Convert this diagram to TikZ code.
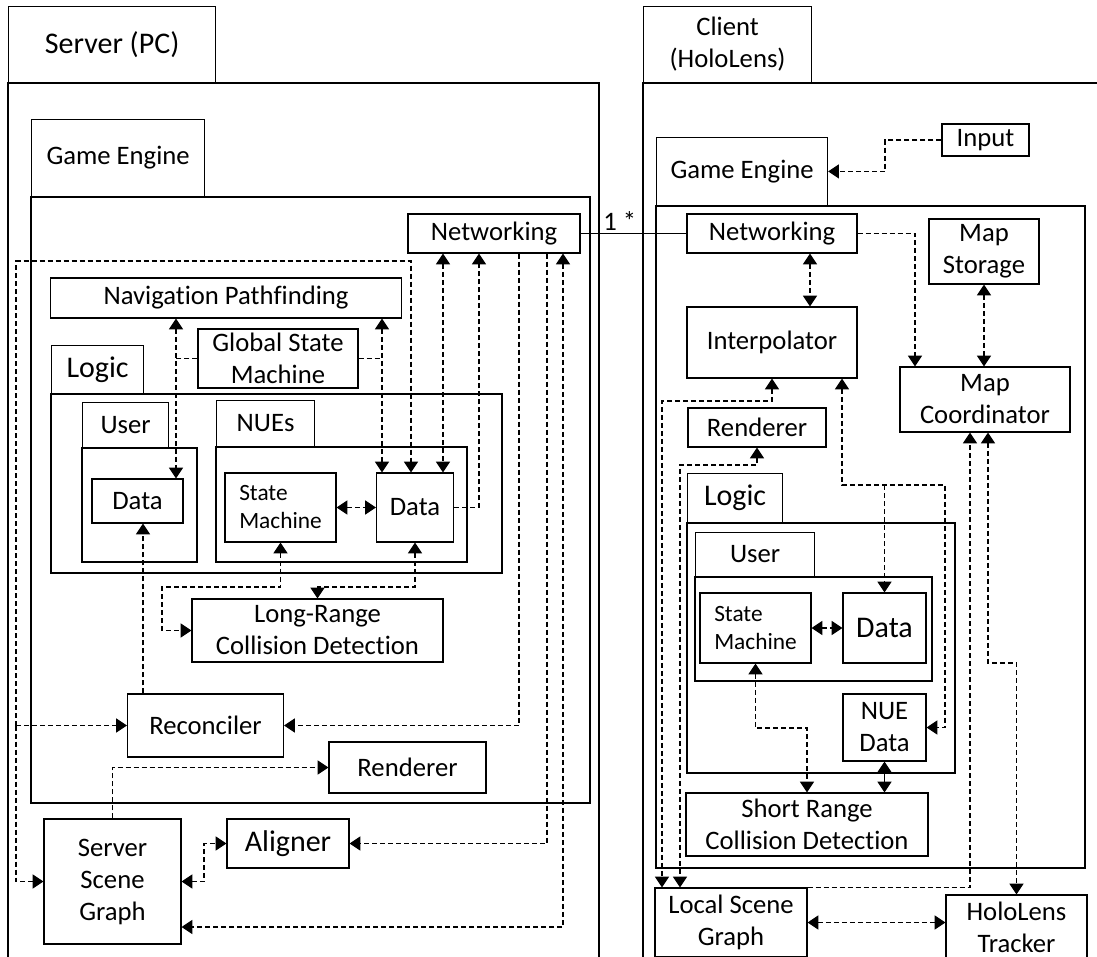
\documentclass[tikz,border=0pt]{standalone}
\usepackage{fontspec}
\setmainfont[Ligatures=NoCommon]{Carlito}
\usetikzlibrary{arrows.meta}

\begin{document}
\begin{tikzpicture}[x=0.75pt,y=0.75pt,yscale=-1,
  box/.style={draw, line width=0.9pt, inner sep=0pt, align=center, font=\fontsize{20}{24}\selectfont},
  sz/.style 2 args={minimum width=#1*0.75pt, minimum height=#2*0.75pt},
  big/.style={font=\fontsize{22.5}{27}\selectfont},
  small/.style={font=\fontsize{17.5}{21}\selectfont, align=left},
  frame/.style={line width=0.9pt},
  link/.style={line width=0.85pt, dash pattern=on 3.75pt off 2.25pt},
  >={Triangle[width=10.5pt,length=8pt]}]
\useasboundingbox (0,0) rectangle (1097,957);

%Server side
\node[box, big, sz={207}{76}, anchor=south west] (serverT) at (8,83) {Server (PC)};
\draw[frame] (serverT.south west) rectangle (599,990);
\node[box, sz={173}{77}, anchor=south west] (geTabS) at (31,197) {Game Engine};
\draw[frame] (geTabS.south west) rectangle (590,803);

\node[box, sz={172}{39}] (netS) at (494,233.5) {Networking};
\node[box, sz={351}{40}] (navS) at (226,298) {Navigation Pathfinding};
\node[box, sz={160}{59}] (gsmS) at (278,358.5) {Global State\\Machine};

\node[box, big, sz={92}{48}, anchor=south west] (logicS) at (51,394) {Logic};
\draw[frame] (logicS.south west) rectangle (502,573);
\node[box, sz={86}{45}, anchor=south west] (userS) at (82,448) {User};
\draw[frame] (userS.south west) rectangle (197,562);
\node[box, sz={91}{44}] (udataS) at (137.5,501) {Data};
\node[box, sz={98}{46}, anchor=south west] (nuesS) at (216,447) {NUEs};
\draw[frame] (nuesS.south west) rectangle (467,562);
\node[box, small, sz={111}{69}] (smS) at (280.5,507.5) {State\\Machine};
\node[box, sz={77}{69}] (ndataS) at (415,507.5) {Data};

\node[box, sz={251}{63}] (lrcdS) at (317.5,630.5) {Long-Range\\Collision Detection};
\node[box, sz={156}{63}] (recS) at (205.5,725.5) {Reconciler};
\node[box, sz={157}{51}] (rendS) at (407.5,767.5) {Renderer};
\node[box, sz={137}{125}] (ssgS) at (112.5,881.5) {Server\\Scene\\Graph};
\node[box, big, sz={122}{49}] (alignS) at (288,843.5) {Aligner};

%Client side
\node[box, sz={168}{76}, anchor=south west] (clientT) at (643,83) {Client\\(HoloLens)};
\draw[frame] (clientT.south west) rectangle (1110,990);
\node[box, sz={171}{68}, anchor=south west] (geTabC) at (656,206) {Game Engine};
\draw[frame] (geTabC.south west) rectangle (1085,868);

\node[box, sz={87}{32}] (inputC) at (985.5,140) {Input};
\node[box, sz={170}{39}] (netC) at (772,233.5) {Networking};
\node[box, sz={110}{65}] (mstoreC) at (984,251.5) {Map\\Storage};
\node[box, sz={170}{71}] (interpC) at (772,342.5) {Interpolator};
\node[box, sz={170}{65}] (mcoordC) at (985,399.5) {Map\\Coordinator};
\node[box, sz={138}{39}] (rendC) at (757,427.5) {Renderer};

\node[box, big, sz={95}{49}, anchor=south west] (logicC) at (687,523) {Logic};
\draw[frame] (logicC.south west) rectangle (955,773);
\node[box, sz={119}{44}, anchor=south west] (userC) at (695,577) {User};
\draw[frame] (userC.south west) rectangle (932,681);
\node[box, small, sz={111}{70}] (smC) at (755.5,628) {State\\Machine};
\node[box, big, sz={83}{70}] (dataC) at (884.5,628) {Data};
\node[box, sz={83}{67}] (nuedC) at (884.5,727.5) {NUE\\Data};

\node[box, sz={242}{63}] (srcdC) at (807,824.5) {Short Range\\Collision Detection};
\node[box, sz={152}{69}] (lsgC) at (731,922.5) {Local Scene\\Graph};
\node[box, sz={141}{64}] (htC) at (1016.5,927) {HoloLens\\Tracker};

%Server links
\draw[frame] (netS.east) -- node[pos=0.37, above, inner sep=2pt, font=\fontsize{20}{24}\selectfont] (multS) {1 *} (netC.west);
\draw[link,<->] (176,0 |- navS.south) -- (176,0 |- udataS.north);
\draw[link] (gsmS.west) -- (176,0 |- gsmS.west);
\draw[link,<->] (382,0 |- navS.south) -- (382,0 |- ndataS.north);
\draw[link] (gsmS.east) -- (382,0 |- gsmS.east);
\draw[link,<->] (443,0 |- netS.south) -- (443,0 |- ndataS.north);
\draw[link,->] (ndataS.east) -| (479,0 |- netS.south);
\draw[link,->] (519,0 |- netS.south) |- (recS.east);
\draw[link,->] (547,0 |- netS.south) |- (alignS.east);
\draw[link,<->] (563,0 |- netS.south) |- (ssgS.east |- 0,927);
\draw[link,<->] (smS.east) -- (ndataS.west);

\coordinate (splitS) at (16,0 |- recS.west);
\draw[link,->] (splitS) |- (411,261) -- (411,0 |- ndataS.north);
\draw[link,->] (splitS) -- (recS.west);
\draw[link,->] (splitS) |- (ssgS.west);
\draw[link,->] (143,0 |- recS.north) -- (143,0 |- udataS.south);

\draw[link,<->] (smS.south) |- (162,587) |- (lrcdS.west);
\draw[link,<->] (ndataS.south) |- (lrcdS.north |- 0,587) -- (lrcdS.north);
\draw[link,->] (ssgS.north) |- (rendS.west);
\draw[link,<->] (ssgS.east) -| (204,0 |- alignS.west) -- (alignS.west);

%Client links
\draw[link,->] (inputC.west) -| (885,0 |- geTabC.east) -- (geTabC.east);
\draw[link,<->] (810,0 |- netC.south) -- (810,0 |- interpC.north);
\draw[link,->] (netC.east) -| (915,0 |- mcoordC.north);
\draw[link,<->] (mstoreC.south) -- (mstoreC.south |- mcoordC.north);
\draw[link,<->] (interpC.south) |- (662,401) -- (662,0 |- lsgC.north);
\draw[link,<->] (rendC.south) |- (680,465) -- (680,0 |- lsgC.north);
\draw[link,<->] (842,0 |- interpC.south) |- (945,485) |- (nuedC.east);
\draw[link,->] (dataC.north |- 0,485) -- (dataC.north);
\draw[link,->] (lsgC.north east) -| (970,0 |- mcoordC.south);
\draw[link,<->] (988,0 |- mcoordC.south) |- (htC.north |- 0,663) -- (htC.north);
\draw[link,<->] (lsgC.east) -- (lsgC.east -| htC.west);
\draw[link,<->] (smC.east) -- (dataC.west);
\draw[link,<->] (smC.south) |- (807,728) -- (srcdC.north);
\draw[frame,<->] (nuedC.south) -- (nuedC.south |- srcdC.north);

\end{tikzpicture}
\end{document}
